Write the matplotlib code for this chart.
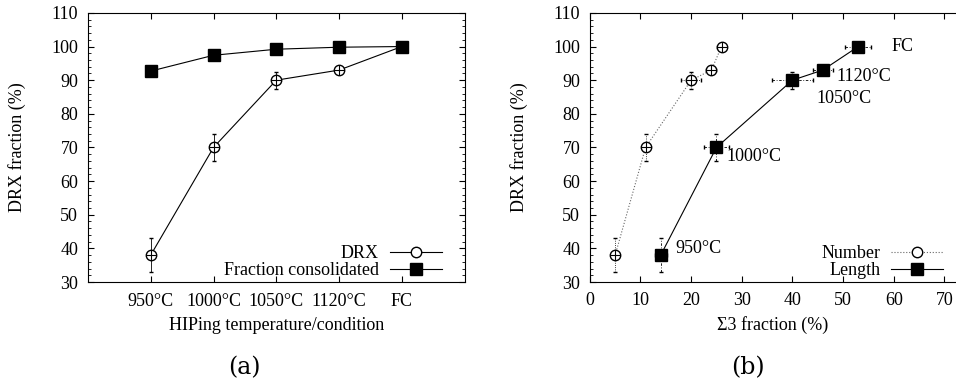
import numpy as np
import matplotlib
matplotlib.use("Agg")
import matplotlib.pyplot as plt
from matplotlib.ticker import MultipleLocator

plt.rcParams['font.family'] = ['Liberation Serif', 'DejaVu Serif']
plt.rcParams['font.size'] = 13

# data
conditions = ['950°C', '1000°C', '1050°C', '1120°C', 'FC']
drx = [38, 70, 90, 93, 100]
drx_err = [5, 4, 2.5, 1, 1]
consolidated = [92.7, 97.4, 99.2, 99.8, 100]

sigma3_number = [5, 11, 20, 24, 26]
sigma3_number_err = [0.5, 0.5, 2, 1, 0.8]
sigma3_length = [14, 25, 40, 46, 53]
sigma3_length_err = [1.2, 2.4, 4, 2, 2.6]
point_labels = ['950°C', '1000°C', '1050°C', '1120°C', 'FC']
label_x = [16.8, 26.9, 44.7, 48.6, 59.5]
label_y = [40, 67.2, 84.7, 91, 100]

fig = plt.figure(figsize=(9.56, 3.85), dpi=100)
ax1 = fig.add_axes([0.092, 0.2675, 0.394, 0.699])
ax2 = fig.add_axes([0.617, 0.2675, 0.383, 0.699])

def style(ax):
    ax.tick_params(direction='in', which='both', top=True, right=True, labelsize=13)
    ax.tick_params(which='major', length=4)
    ax.tick_params(which='minor', length=2)
    ax.set_ylim(30, 110)
    ax.yaxis.set_major_locator(MultipleLocator(10))
    ax.yaxis.set_minor_locator(MultipleLocator(2))
    ax.tick_params(axis='y', pad=7)
    ax.set_ylabel('DRX fraction (%)', fontsize=13, labelpad=18)

ms_c = 7.5
ms_s = 8.5

# (a)
x = np.arange(1, len(conditions) + 1)
ax1.errorbar(x, drx, yerr=drx_err, fmt='none', ecolor='k', elinewidth=0.6,
             linestyle=':', capsize=1.5)
ax1.plot(x, drx, 'k-', lw=0.8, marker='o', mfc='white', mec='k', ms=ms_c, label='DRX')
ax1.plot(x, drx, 'k+', ms=ms_c, mew=0.8)
ax1.plot(x, consolidated, 'k-', lw=0.8, marker='s', ms=ms_s, label='Fraction consolidated')
ax1.set_xlim(0, 6)
ax1.set_xticks(x)
ax1.set_xticklabels(conditions)
ax1.tick_params(axis='x', pad=8)
ax1.set_xlabel('HIPing temperature/condition', fontsize=13, labelpad=5)
style(ax1)
ax1.legend(loc='lower right', bbox_to_anchor=(0.947, 0.0), frameon=False,
           markerfirst=False, handlelength=2.9, borderaxespad=0.0, borderpad=0.15,
           labelspacing=0.0, handletextpad=0.6, fontsize=13)

# (b)
eb = ax2.errorbar(sigma3_number, drx, xerr=sigma3_number_err, yerr=drx_err, fmt='none',
                  ecolor='k', elinewidth=0.6, capsize=1.5)
for c in eb[2]:
    c.set_linestyle(':')
ax2.plot(sigma3_number, drx, color='0.4', ls=':', lw=0.8, marker='o', mfc='white',
         mec='k', ms=ms_c, label='Number')
ax2.plot(sigma3_number, drx, 'k+', ms=ms_c, mew=0.8)
eb = ax2.errorbar(sigma3_length, drx, xerr=sigma3_length_err, yerr=drx_err, fmt='none',
                  ecolor='k', elinewidth=0.6, capsize=1.5)
for c in eb[2]:
    c.set_linestyle((0, (3, 2, 1, 2)))
ax2.plot(sigma3_length, drx, 'k-', lw=0.8, marker='s', ms=ms_s, label='Length')
for t, lx, ly in zip(point_labels, label_x, label_y):
    ax2.text(lx, ly, t, fontsize=13, va='center', ha='left')
ax2.set_xlim(0, 72.3)
ax2.xaxis.set_major_locator(MultipleLocator(10))
ax2.set_xlabel('Σ3 fraction (%)', fontsize=13, labelpad=5)
ax2.tick_params(axis='x', pad=7)
style(ax2)
ax2.spines['right'].set_visible(False)
ax2.tick_params(which='both', right=False)
ax2.legend(loc='lower right', bbox_to_anchor=(0.973, 0.0), frameon=False,
           markerfirst=False, handlelength=2.9, borderaxespad=0.0, borderpad=0.15,
           labelspacing=0.0, handletextpad=0.6, fontsize=13)

fig.text(0.256, 0.045, '(a)', ha='center', va='center', fontsize=17, family='DejaVu Serif')
fig.text(0.782, 0.045, '(b)', ha='center', va='center', fontsize=17, family='DejaVu Serif')

fig.savefig('out.png', dpi=100)
